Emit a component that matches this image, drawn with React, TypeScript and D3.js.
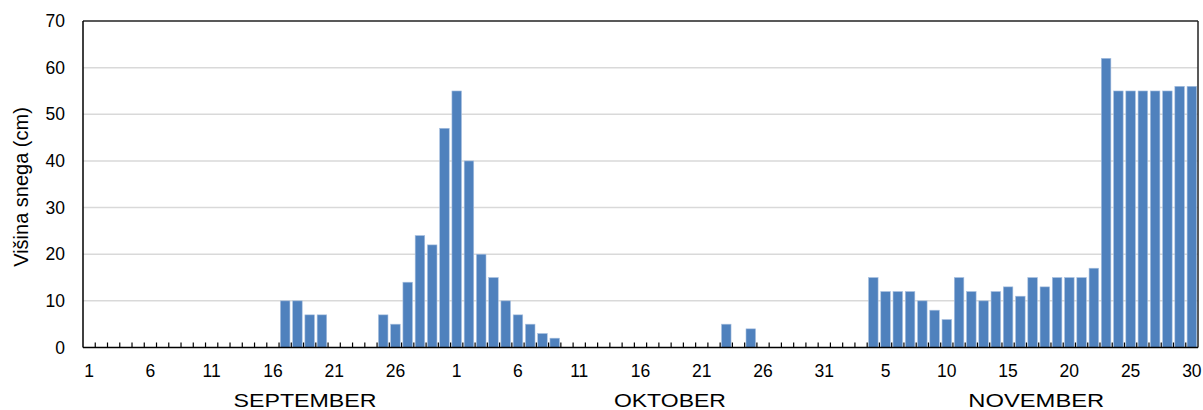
import React from "react";
import * as d3 from "d3";

const sepValues = [0,0,0,0,0,0,0,0,0,0,0,0,0,0,0,0,10,10,7,7,0,0,0,0,7,5,14,24,22,47];
const octValues = [55,40,20,15,10,7,5,3,2,0,0,0,0,0,0,0,0,0,0,0,0,0,5,0,4,0,0,0,0,0,0];
const novValues = [0,0,0,15,12,12,12,10,8,6,15,12,10,12,13,11,15,13,15,15,15,17,62,55,55,55,55,55,56,56];

const sepTickDays = [1,6,11,16,21,26];
const octTickDays = [1,6,11,16,21,26,31];
const novTickDays = [5,10,15,20,25,30];

const monthNames = ["SEPTEMBER", "OKTOBER", "NOVEMBER"];
const monthLabelPos = [18.12, 47.9, 77.8];
const monthLabelLen = [143, 112, 136];
const yTicks = [0,10,20,30,40,50,60,70];
const yTitle = "Višina snega (cm)";

const W = 1203, H = 410;
const M = { left: 83, right: 1198, top: 21, bottom: 347.5 };
const FONT = "'Liberation Sans', Arial, sans-serif";

export default function App() {
  const months = [sepValues, octValues, novValues];
  const tickDays = [sepTickDays, octTickDays, novTickDays];
  const data: { key: string; m: number; day: number; v: number }[] = [];
  months.forEach((arr, m) => arr.forEach((v, i) => data.push({ key: `${m}-${i + 1}`, m, day: i + 1, v })));

  const x = d3.scaleBand<string>().domain(data.map(d => d.key)).range([M.left, M.right]).padding(0);
  const xi = d3.scaleLinear().domain([0, data.length]).range([M.left, M.right]);
  const y = d3.scaleLinear().domain([0, 70]).range([M.bottom, M.top]);
  const step = x.step();
  const bw = step * 0.78;

  return (
    <svg width={W} height={H} style={{ position: "absolute", left: 0, top: 0, background: "#fff" }} fontFamily={FONT}>
      {yTicks.filter(t => t > 0 && t < 70).map(t => (
        <line key={"g" + t} x1={M.left} x2={M.right} y1={y(t)} y2={y(t)} stroke="#d9d9d9" strokeWidth={1.5} />
      ))}
      {data.filter(d => d.v > 0).map(d => (
        <rect key={d.key} x={(x(d.key) as number) + (step - bw) / 2} y={y(d.v)} width={bw} height={y(0) - y(d.v)}
          fill="#4f81bd" stroke="#a9c1e0" strokeWidth={0.6} />
      ))}
      <line x1={M.left} x2={M.right} y1={M.top} y2={M.top} stroke="#222" strokeWidth={1.5} />
      <line x1={M.right} x2={M.right} y1={M.top} y2={M.bottom} stroke="#222" strokeWidth={1.5} />
      <line x1={M.left} x2={M.left} y1={M.top} y2={M.bottom} stroke="#000" strokeWidth={1.5} />
      <line x1={M.left} x2={M.right} y1={M.bottom} y2={M.bottom} stroke="#000" strokeWidth={1.5} />
      {data.slice(1).map(d => (
        <line key={"t" + d.key} x1={x(d.key) as number} x2={x(d.key) as number} y1={M.bottom} y2={M.bottom - 5} stroke="#000" strokeWidth={1.2} />
      ))}
      {yTicks.map(t => (
        <text key={"y" + t} x={65} y={y(t)} dy="0.35em" textAnchor="end" fontSize={17.5} fill="#000">{t}</text>
      ))}
      {data.filter(d => tickDays[d.m].includes(d.day)).map(d => (
        <text key={"xl" + d.key} x={(x(d.key) as number) + step / 2} y={377} textAnchor="middle" fontSize={17.5} fill="#000">{d.day}</text>
      ))}
      {monthNames.map((n, m) => (
        <text key={n} x={xi(monthLabelPos[m]) - monthLabelLen[m] / 2} y={406.5} fontSize={18.8}
          textLength={monthLabelLen[m]} lengthAdjust="spacingAndGlyphs" fill="#000">{n}</text>
      ))}
      <text transform={`translate(28,187) rotate(-90)`} textAnchor="middle" fontSize={20} fill="#000">{yTitle}</text>
    </svg>
  );
}
